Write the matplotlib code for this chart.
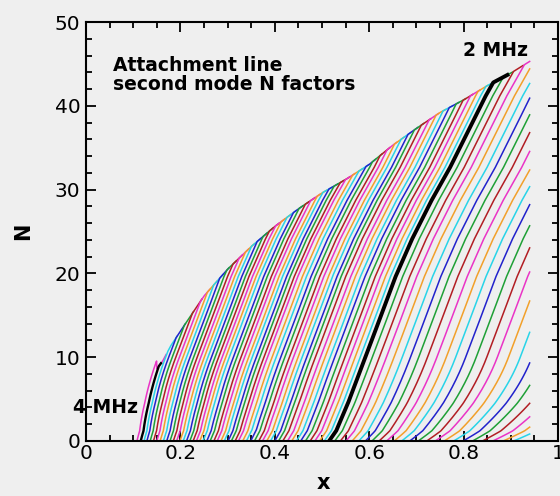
import numpy as np
import matplotlib.pyplot as plt
from matplotlib.ticker import MultipleLocator

# onset (N = 0) of every N-factor curve, 4.04 MHz down in 0.04 MHz steps
x_onset = [0.108, 0.116, 0.123, 0.129, 0.136, 0.143, 0.150, 0.157, 0.164, 0.171,
           0.178, 0.185, 0.192, 0.199, 0.206, 0.213, 0.220, 0.227, 0.234, 0.241,
           0.248, 0.256, 0.263, 0.271, 0.278, 0.286, 0.293, 0.301, 0.308, 0.316,
           0.323, 0.332, 0.340, 0.349, 0.357, 0.366, 0.374, 0.383, 0.391, 0.400,
           0.408, 0.417, 0.427, 0.436, 0.446, 0.455, 0.465, 0.475, 0.485, 0.495,
           0.505, 0.515, 0.527, 0.539, 0.551, 0.564, 0.578, 0.592, 0.606, 0.621,
           0.637, 0.653, 0.669, 0.686, 0.704, 0.722, 0.740, 0.759, 0.779, 0.799,
           0.819, 0.840, 0.862, 0.884, 0.906]
i_4mhz = 1
i_2mhz = 51

# growth shape of the 2 MHz curve: distance from onset vs N
ref_dx = [0.0, 0.015, 0.040, 0.070, 0.107, 0.140, 0.175, 0.215, 0.255, 0.295,
          0.330, 0.370, 0.420, 0.480]
ref_n = [0.0, 1.2, 4.5, 9.0, 14.5, 19.5, 24.0, 28.5, 32.5, 37.0,
         41.0, 45.0, 50.0, 56.0]

# stretch of the low-N foot, read at a few onsets
foot_x0 = [0.108, 0.515, 0.830, 0.910]
foot_k = [0.58, 1.00, 2.00, 2.50]

# envelope of maximum N
env_x = [0.150, 0.163, 0.180, 0.213, 0.250, 0.300, 0.350, 0.400, 0.450, 0.500,
         0.550, 0.600, 0.650, 0.700, 0.750, 0.800, 0.850, 0.900, 0.940]
env_n = [8.6, 9.6, 11.4, 14.2, 17.3, 20.5, 23.2, 25.6, 27.7, 29.6,
         31.2, 33.0, 35.3, 37.3, 39.2, 40.7, 42.4, 43.9, 45.3]

x_end = 0.94

xticks = [0, 0.2, 0.4, 0.6, 0.8, 1.0]
xtick_labels = ['0', '0.2', '0.4', '0.6', '0.8', '1']
yticks = [0, 10, 20, 30, 40, 50]

# tecplot-like colour cycle
colors = ['#2222cc', '#1fa036', '#b21e24', '#ea34c6', '#f2a02a', '#28d4e8']
bg = '#efefef'


def growth_curve(x0, k, run=0.02):
    # N grows along the reference shape, then rides the envelope for a short run
    n = np.linspace(0, ref_n[-1], 500)
    dx = np.interp(n, ref_n, ref_dx)
    dx10 = np.interp(10.0, ref_n, ref_dx)
    w = np.clip(1 - n / 10.0, 0, 1)
    x = x0 + k * dx10 + (dx - dx10) * (1 + (k - 1) * w)
    e = np.interp(x, env_x, env_n, left=100.0)
    above = np.nonzero(n > e)[0]
    if above.size:
        x_hit = x[above[0]]
        n = np.minimum(n, e)
        keep = x <= x_hit + run
        x, n = x[keep], n[keep]
    if x[-1] > x_end:
        n_last = np.interp(x_end, x, n)
        keep = x < x_end
        x = np.append(x[keep], x_end)
        n = np.append(n[keep], n_last)
    return x, n


fig = plt.figure(figsize=(5.6, 4.96), dpi=100, facecolor=bg)
ax = fig.add_axes([0.1536, 0.1109, 0.8428, 0.8447], facecolor=bg)

for i, x0 in enumerate(x_onset):
    k = np.interp(x0, foot_x0, foot_k)
    if i == i_4mhz:
        x, n = growth_curve(x0, k, run=0.005)
        ax.plot(x, n, color='black', lw=1.7, zorder=4)
    elif i == i_2mhz:
        x, n = growth_curve(x0, k, run=0.03)
        ax.plot(x, n, color='black', lw=2.8, zorder=4)
    else:
        x, n = growth_curve(x0, k)
        ax.plot(x, n, color=colors[(i + 3) % 6], lw=1.1, zorder=2)

ax.set_xlim(0, 1)
ax.set_ylim(0, 50)
ax.set_xticks(xticks)
ax.set_xticklabels(xtick_labels)
ax.set_yticks(yticks)
ax.xaxis.set_minor_locator(MultipleLocator(0.05))
ax.yaxis.set_minor_locator(MultipleLocator(2))
ax.tick_params(which='both', direction='in', top=True, right=True, width=1.3)
ax.tick_params(which='major', length=7.5, labelsize=14.5)
ax.tick_params(which='minor', length=4)
ax.tick_params(axis='x', pad=2)
ax.tick_params(axis='y', pad=4)
for s in ax.spines.values():
    s.set_linewidth(1.5)

ax.set_xlabel('x', fontsize=15, fontweight='bold')
ax.set_ylabel('N', fontsize=15, fontweight='bold')
ax.xaxis.set_label_coords(0.502, -0.076)
ax.yaxis.set_label_coords(-0.112, 0.5)

ax.text(0.057, 44.15, 'Attachment line', fontsize=13.5, fontweight='bold', va='baseline')
ax.text(0.057, 41.9, 'second mode N factors', fontsize=13.5, fontweight='bold', va='baseline')
ax.text(0.799, 45.9, '2 MHz', fontsize=13.5, fontweight='bold', va='baseline')
ax.text(-0.028, 3.35, '4 MHz', fontsize=13.5, fontweight='bold', va='baseline',
        clip_on=False, zorder=5)

fig.savefig('out.png', dpi=100, facecolor=bg)
